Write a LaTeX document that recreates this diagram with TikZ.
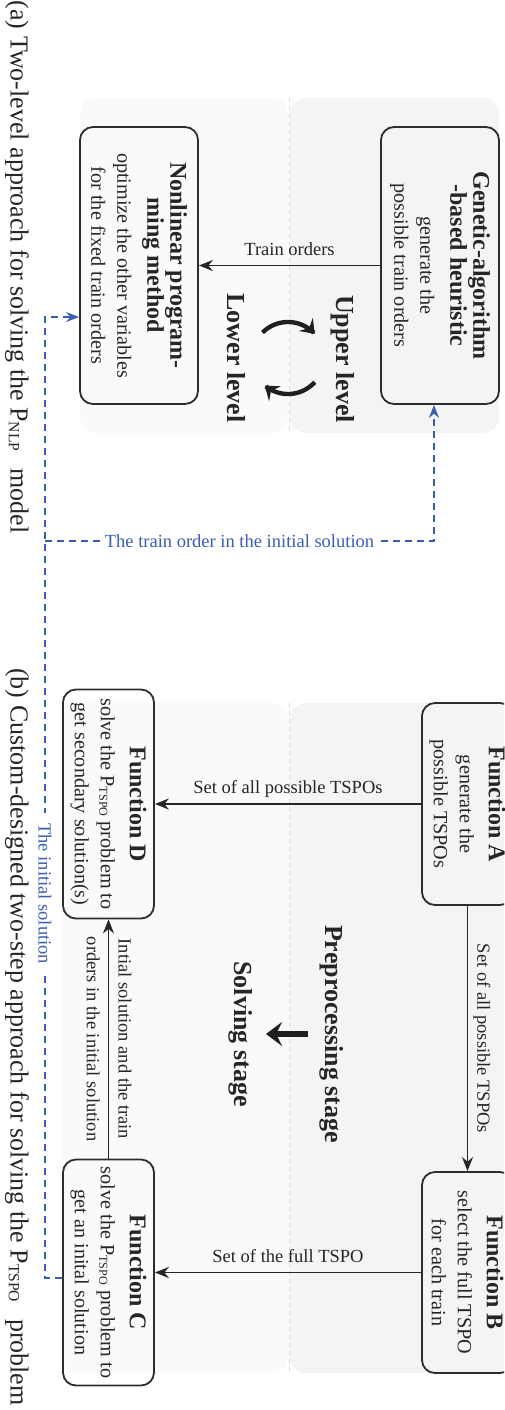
\documentclass[tikz,border=0pt]{standalone}
\usepackage{fontspec}
\setmainfont{Liberation Serif}
\usepackage{graphicx}
\usetikzlibrary{arrows.meta,calc}
\definecolor{dblue}{RGB}{59,94,178}
\definecolor{bgup}{RGB}{244,244,244}
\definecolor{bglow}{RGB}{250,250,250}
\definecolor{boxline}{RGB}{45,45,45}
\definecolor{divcol}{RGB}{215,215,215}
\newcommand{\tsub}[1]{\raisebox{-0.15ex}{\scalebox{0.6}{#1}}}
\newcommand{\titlef}{\fontsize{12}{11.5}\selectfont\bfseries}
\newcommand{\bodyf}{\normalfont\fontsize{10.1}{13}\selectfont}
\begin{document}
\begin{tikzpicture}[x=0.5pt,y=-0.5pt,
  fbox/.style={draw=boxline, line width=0.9pt, rounded corners=6.5pt, rotate=-90, inner sep=0pt, align=flush center, anchor=center, text=black!85},
  lbl/.style={font=\fontsize{9.25}{11}\selectfont, inner sep=0pt, text=black!85},
  arr/.style={line width=0.9pt, draw=black!85, -{Stealth[length=7pt,width=5.5pt]}},
  darr/.style={draw=dblue, line width=0.8pt, dash pattern=on 3.5pt off 2.5pt, -{Stealth[length=6.5pt,width=5pt]}},
  divider/.style={draw=divcol, line width=0.4pt, dash pattern=on 2pt off 2pt},
  stg/.style={rotate=-90, font=\fontsize{13}{15}\selectfont\bfseries, inner sep=0pt, text=black!85},
  captxt/.style={rotate=-90, font=\fontsize{13}{15}\selectfont, inner sep=0pt, text=black!85},
  cyc/.style={line width=2.2pt, draw=black!88, -{Stealth[length=6.5pt,width=9.5pt,inset=2.5pt]}},
  bigarr/.style={line width=3pt, draw=black!88, -{Stealth[length=8pt,width=12pt,inset=3pt]}}
]
\useasboundingbox (0,0) rectangle (504,1410);
\clip (0,0) rectangle (504,1410);

% backgrounds (a)
\fill[bglow, rounded corners=8pt] (80,98) rectangle (288,433);
\fill[bgup, rounded corners=8pt] (290,98) rectangle (499,433);
\draw[divider] (289,98) -- (289,433);
% backgrounds (b)
\fill[bglow, rounded corners=8pt] (63,703) rectangle (288,1373);
\fill[bgup, rounded corners=8pt] (290,703) rectangle (520,1373);
\draw[divider] (289,703) -- (289,1373);

% boxes (a)
\node[fbox, minimum width=138.5pt, minimum height=59pt, text width=134pt] (ga) at (440,265.5)
  {\titlef Genetic-algorithm\\-based heuristic\par\vspace{2pt}\bodyf generate the\\possible train orders\par};
\node[fbox, minimum width=138.5pt, minimum height=59pt, text width=134pt] (nlp) at (139,265.5)
  {\titlef Nonlinear program-\\ming method\par\vspace{2pt}\bodyf optimize the other variables\\for the fixed train orders\par};

% boxes (b)
\node[fbox, minimum width=101pt, minimum height=45.5pt, text width=98pt] (fa) at (467.5,804)
  {\titlef Function A\par\vspace{1.5pt}\bodyf generate the\\possible TSPOs\par};
\node[fbox, minimum width=100.5pt, minimum height=45.5pt, text width=98pt] (fb) at (467.5,1272.5)
  {\titlef Function B\par\vspace{1.5pt}\bodyf select the full TSPO\\for each train\par};
\node[fbox, minimum width=113pt, minimum height=45.5pt, text width=112pt] (fc) at (108.5,1272.5)
  {\titlef Function C\par\vspace{1.5pt}\bodyf solve the P\tsub{TSPO} problem to\\get an inital solution\par};
\node[fbox, minimum width=114.5pt, minimum height=45.5pt, text width=113pt] (fd) at (108.5,804)
  {\titlef Function D\par\vspace{1.5pt}\bodyf solve the P\tsub{TSPO} problem to\\get secondary solution(s)\par};

% level labels (a)
\node[stg] (ul) at (343,359) {Upper level};
\node[stg] (ll) at (236,358) {Lower level};
\draw[cyc] plot[domain=225:318, samples=40] ({288+36*cos(\x)},{358+36*sin(\x)});
\draw[cyc] plot[domain=42:130, samples=40] ({288+36*cos(\x)},{358+36*sin(\x)});

% stage labels (b)
\node[stg] (ps) at (332,1034) {Preprocessing stage};
\node[stg] (ss) at (241,1034) {Solving stage};
\coordinate (s1) at (308,1034);
\coordinate (s2) at (266,1034);
\draw[bigarr] (s1) -- (s2);

% connectors (a)
\draw[arr] (ga.south) -- (nlp.north)
  node[lbl, midway, anchor=base, yshift=5pt] (l1) {Train orders};

% connectors (b)
\draw[arr] (fa.south) -- (fd.north)
  node[lbl, midway, anchor=base, yshift=5.5pt] (l2) {Set of all possible TSPOs};
\draw[arr] (fa.east) -- (fb.west)
  node[lbl, midway, rotate=-90, anchor=south, inner sep=2.5pt] (l3) {Set of all possible TSPOs};
\draw[arr] (fb.south) -- (fc.north)
  node[lbl, midway, anchor=base, yshift=5pt] (l4) {Set of the full TSPO};
\draw[arr] (fc.west) -- (fd.east)
  node[lbl, midway, rotate=-90, anchor=south, inner sep=4.5pt] (l5) {Intial solution and the train}
  node[lbl, midway, rotate=-90, anchor=north, inner sep=4pt] (l6) {orders in the initial solution};

% blue dashed feedback
\coordinate (cy) at (0,1278);
\coordinate (j1) at (45,1278);
\coordinate (j2) at (45,317);
\coordinate (j3) at (45,541);
\coordinate (j4) at (434,541);
\draw[darr] (fc.south |- cy) -- (j1) --
  node[lbl, pos=0.4, rotate=-90, fill=white, text=dblue, inner xsep=5pt, inner ysep=1pt] (l7) {The initial solution}
  (j2) -- (j2 -| nlp.south);
\draw[darr] (j3) --
  node[lbl, midway, fill=white, text=dblue, inner xsep=2pt, inner ysep=1pt] (l8) {The train order in the initial solution}
  (j4) -- (j4 |- ga.east);

% captions
\node[captxt] (capa) at (17,267) {(a) Two-level approach for solving the P\tsub{NLP}\hspace{0.4em} model};
\node[captxt] (capb) at (17,1037) {(b) Custom-designed two-step approach for solving the P\tsub{TSPO}\hspace{0.4em} problem};
\end{tikzpicture}
\end{document}
